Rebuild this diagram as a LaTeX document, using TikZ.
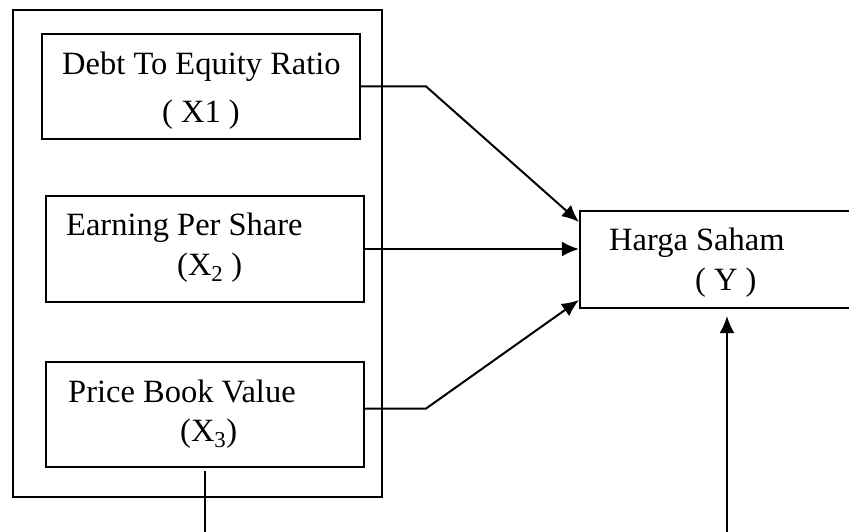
\documentclass[tikz,border=0pt]{standalone}
\usepackage{fontspec}
\setmainfont{Liberation Serif}
\usetikzlibrary{arrows.meta}
\tikzset{
    varbox/.style={draw, line width=2.2pt, inner sep=0pt, minimum width=318pt, minimum height=#1},
    txt/.style={inner sep=0pt, anchor=base west, font=\fontsize{32.5}{40}\selectfont},
    link/.style={line width=2pt, -{Latex[length=17pt,width=15pt]}},
}

\begin{document}
\begin{tikzpicture}[x=1pt,y=-1pt]

    \useasboundingbox (0,0) rectangle (849,532);

    \node[draw, line width=2.6pt, inner sep=0pt, minimum width=369pt, minimum height=487pt] (grp) at (197.5,253.5) {};

    \node[varbox=105pt] (x1) at (201,86.5) {};
    \node[varbox=106pt] (x2) at (205,249) {};
    \node[varbox=105pt] (x3) at (205,414.5) {};
    \node[draw, line width=2.2pt, inner sep=0pt, minimum width=300pt, minimum height=97pt] (y) at (730,259.5) {};

    \node[txt] (x1a) at (62,75) {Debt To Equity Ratio};
    \node[txt] (x1b) at (162,123) {( X1 )};
    \node[txt] (x2a) at (66,235) {Earning Per Share};
    \node[txt] (x2b) at (177,275) {(X\textsubscript{2} )};
    \node[txt] (x3a) at (68,402) {Price Book Value};
    \node[txt] (x3b) at (180,441) {(X\textsubscript{3})};
    \node[txt] (ya) at (609,250) {Harga Saham};
    \node[txt] (yb) at (695,290) {( Y )};

    \coordinate (d1) at (205,532);
    \coordinate (d2) at (727,532);

    \draw[link] (x1.east) -- ++(65,0) -- ([yshift=-12pt]y.north west);
    \draw[link] (x2.east) -- (x2.east -| y.west);
    \draw[link] ([yshift=6pt]x3.east) -- ++(61,0) -- ([yshift=9pt]y.south west);

    \draw[line width=1.5pt] ([yshift=-3pt]x3.south) -- (d1);
    \draw[link, line width=1.8pt] (d2) -- ([yshift=-7pt]y.south -| d2);

\end{tikzpicture}
\end{document}
